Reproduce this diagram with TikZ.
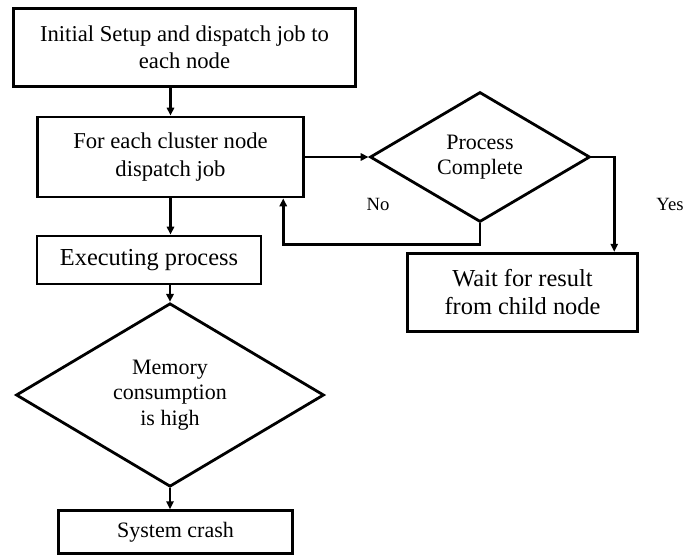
\documentclass[tikz,border=0pt]{standalone}
\usepackage{fontspec}
\setmainfont{Liberation Serif}
\usepackage{tikz}
\usetikzlibrary{arrows.meta, positioning, shapes.geometric}
\tikzset{
  flow/.style={line width=2.1pt, -{Triangle[length=6pt,width=5.5pt]}},
  box/.style={draw, line width=2.1pt, align=center, inner sep=2pt,
    font=\fontsize{17}{20.5}\selectfont},
  bigbox/.style={box, font=\fontsize{18.3}{21}\selectfont},
  decide/.style={draw, diamond, line width=2.1pt, align=center, inner sep=0pt,
    font=\fontsize{16.5}{19}\selectfont},
  answer/.style={font=\fontsize{14}{16}\selectfont}
}

\begin{document}
\begin{tikzpicture}[x=0.75pt, y=-0.75pt]
        \useasboundingbox (0,0) rectangle (698,556);

        \node[box, minimum width=256pt, minimum height=59pt]  (setup) at (184.5,47.5)
          {Initial Setup and dispatch job to\\each node};
        \node[box, minimum width=200pt, minimum height=60pt]  (disp)  at (170.5,157)
          {For each cluster node\\dispatch job};
        \node[bigbox, minimum width=168pt, minimum height=36pt] (exec) at (149,260)
          {Executing process};
        \node[decide, minimum width=231pt, minimum height=120pt] (mem) at (170,395)
          {Memory\\consumption\\is high};
        \node[box, minimum width=175pt, minimum height=32pt,
          font=\fontsize{16.5}{19}\selectfont]                (crash) at (175.5,532)
          {System crash};
        \node[decide, minimum width=165pt, minimum height=87pt] (done) at (480,157)
          {Process\\Complete};
        \node[bigbox, minimum width=173pt, minimum height=59pt] (wait) at (522.5,292.5)
          {Wait for result\\from child node};

        \node[answer] (no)  at (378,204) {No};
        \node[answer] (yes) at (670,204) {Yes};

        \draw[flow] (setup.south -| disp.north) -- (disp.north);
        \draw[flow] (disp.south) -- (disp.south |- exec.north);
        \draw[flow] (exec.south -| mem.north) -- (mem.north);
        \draw[flow] (mem.south) -- (mem.south |- crash.north);
        \draw[flow] (disp.east) -- (done.west);
        \draw[flow] (done.south) -- ++(0,21) -| ([xshift=-16.5pt]disp.south east);
        \draw[flow] (done.east) -| ([xshift=-18.75pt]wait.north east);
      \end{tikzpicture}
\end{document}
